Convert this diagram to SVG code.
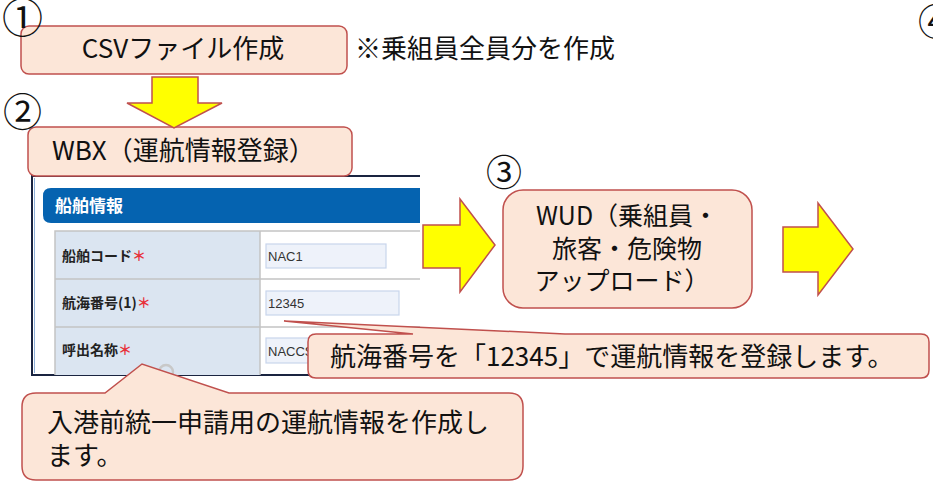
<svg xmlns="http://www.w3.org/2000/svg" width="933" height="483" viewBox="0 0 933 483">
<style>
.box{fill:#FCE6D8;stroke:#C0504D;stroke-width:1.5}
.arrow{fill:#FFFF00;stroke:#C0504D;stroke-width:1.5}
.t{font-family:"Noto Sans CJK JP","Noto Sans",sans-serif;fill:#111;font-size:26px}
.num{font-family:"Noto Sans CJK JP","DejaVu Sans",sans-serif;fill:#111;font-size:41px}
.lbl{font-family:"Noto Sans CJK JP",sans-serif;font-weight:bold;font-size:14px;fill:#222}
.req{fill:#E8303A}
.inp{fill:#EEF2FA;stroke:#C8D5EC;stroke-width:1.2}
.val{font-family:"Liberation Sans",Arial,sans-serif;font-size:13px;fill:#333}
.grid{stroke:#C4C4C4;stroke-width:1.5;fill:none}
</style>

<g id="step1">
<rect class="box" x="21" y="26" width="326" height="48" rx="8"/>
<text class="t" x="183" y="58" text-anchor="middle">CSVファイル作成</text>
</g>

<g id="note">
<text class="t" x="355" y="58">※乗組員全員分を作成</text>
</g>

<g id="screenshot">
<rect x="32" y="176" width="388" height="199" fill="#FFFFFF"/>
<path d="M420,176 L32,176 L32,375 L420,375" fill="none" stroke="#1A2440" stroke-width="2"/>
<line x1="34.5" y1="178" x2="34.5" y2="373" stroke="#8FB0D8" stroke-width="1"/>
<path d="M420,188 L51,188 Q43,188 43,196 L43,215 Q43,223 51,223 L420,223 Z" fill="#0563B0"/>
<text x="55" y="212" style="font-family:'Noto Sans CJK JP',sans-serif;font-weight:bold;font-size:17px;fill:#FFFFFF">船舶情報</text>
<rect x="55" y="231" width="205" height="144" fill="#DBE5F1"/>
<path class="grid" d="M55,375 L55,231 L420,231 M55,279 L420,279 M55,327 L420,327 M260,231 L260,375"/>
<text class="lbl" x="62" y="261">船舶コード<tspan class="req">＊</tspan></text>
<text class="lbl" x="62" y="308">航海番号(1)<tspan class="req">＊</tspan></text>
<text class="lbl" x="62" y="355">呼出名称<tspan class="req">＊</tspan></text>
<rect class="inp" x="266" y="244" width="120" height="24"/>
<text class="val" x="268" y="261">NAC1</text>
<rect class="inp" x="266" y="291" width="133" height="24"/>
<text class="val" x="268" y="308">12345</text>
<rect class="inp" x="266" y="338" width="133" height="25"/>
<text class="val" x="268" y="356">NACCS</text>
<circle cx="166" cy="372" r="7" fill="none" stroke="#C8C8C8" stroke-width="2.5"/>
</g>

<g id="step2">
<rect class="box" x="28" y="127" width="324" height="49" rx="8"/>
<text class="t" x="52" y="160">WBX（運航情報登録）</text>
</g>

<g id="step3">
<rect class="box" x="503" y="190" width="249" height="118" rx="20"/>
<text class="t" x="627" y="225" text-anchor="middle" style="font-size:25px">WUD（乗組員・</text>
<text class="t" x="627" y="258" text-anchor="middle" style="font-size:25px">旅客・危険物</text>
<text class="t" x="622" y="290" text-anchor="middle" style="font-size:25px">アップロード）</text>
</g>

<g id="connectors">
<polygon class="arrow" points="152,77 198,77 198,103 222,103 174,128 127,103 152,103"/>
<polygon class="arrow" points="423,225 460,225 460,199 495,245 460,292 460,268 423,268"/>
<polygon class="arrow" points="783,227 818,227 818,203 853,249 818,295 818,272 783,272"/>
</g>

<g id="callout1">
<path class="box" d="M316,334 L413,334 L284,321 L565,334 L921,334 Q929,334 929,342 L929,370 Q929,378 921,378 L316,378 Q308,378 308,370 L308,342 Q308,334 316,334 Z"/>
<text class="t" x="330" y="366">航海番号を「12345」で運航情報を登録します。</text>
</g>

<g id="callout2">
<path class="box" d="M36,393 L105,393 L142,364 L229,393 L509,393 Q523,393 523,407 L523,466 Q523,480 509,480 L36,480 Q22,480 22,466 L22,407 Q22,393 36,393 Z"/>
<text class="t" x="47" y="432">入港前統一申請用の運航情報を作成し</text>
<text class="t" x="47" y="465">ます。</text>
</g>

<g id="markers">
<text class="num" x="2" y="33">①</text>
<text class="num" x="3" y="126" style="font-size:39px">②</text>
<text class="num" x="486" y="186" style="font-size:36px">③</text>
<text class="num" x="918" y="36" style="font-size:37px">④</text>
</g>
</svg>
